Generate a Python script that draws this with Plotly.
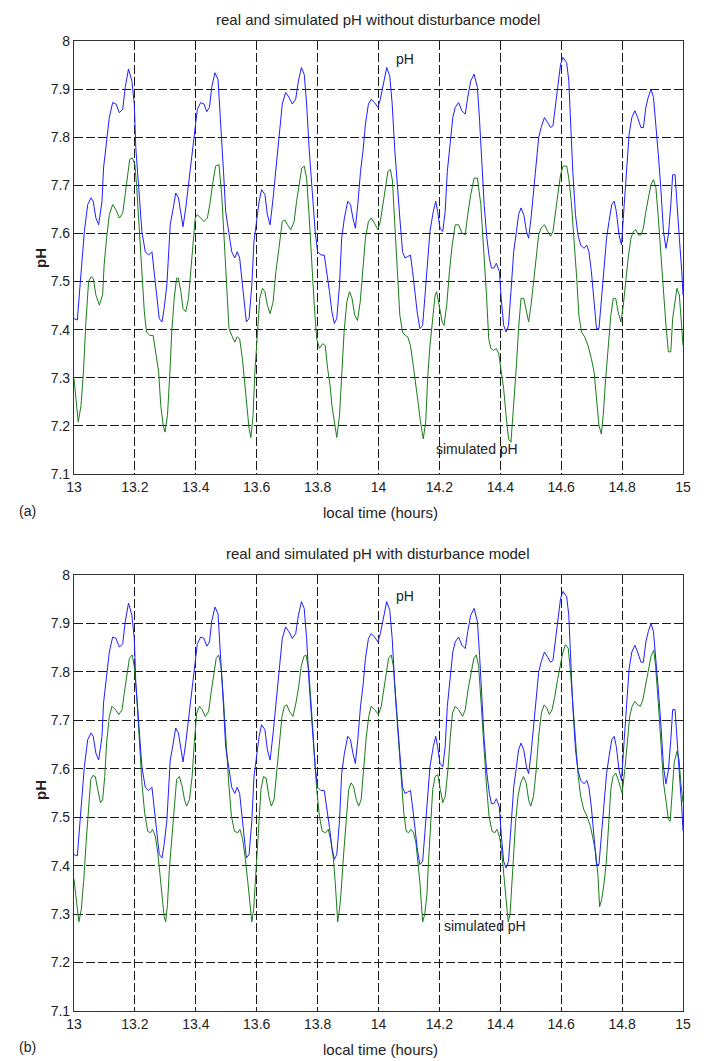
import plotly.graph_objects as go

# ---------------- data ----------------
time_ph = [13.000, 13.011, 13.020, 13.034, 13.045, 13.056, 13.063, 13.072, 13.081, 13.092, 13.097, 13.107, 13.116, 13.127, 13.138, 13.149, 13.160, 13.168, 13.179, 13.190,
           13.198, 13.203, 13.212, 13.223, 13.234, 13.245, 13.256, 13.263, 13.271, 13.280, 13.289, 13.296, 13.305, 13.316, 13.326, 13.334, 13.343, 13.351, 13.358, 13.367,
           13.378, 13.389, 13.398, 13.405, 13.416, 13.427, 13.436, 13.445, 13.452, 13.463, 13.473, 13.482, 13.491, 13.498, 13.507, 13.518, 13.528, 13.536, 13.544, 13.551,
           13.558, 13.566, 13.575, 13.584, 13.591, 13.599, 13.608, 13.616, 13.627, 13.635, 13.644, 13.654, 13.665, 13.673, 13.684, 13.695, 13.706, 13.717, 13.728, 13.737,
           13.747, 13.756, 13.764, 13.772, 13.781, 13.792, 13.800, 13.811, 13.822, 13.830, 13.839, 13.847, 13.855, 13.863, 13.872, 13.879, 13.888, 13.899, 13.908, 13.916,
           13.924, 13.932, 13.941, 13.949, 13.957, 13.967, 13.976, 13.987, 13.998, 14.006, 14.016, 14.027, 14.037, 14.045, 14.053, 14.061, 14.070, 14.079, 14.087, 14.096,
           14.105, 14.112, 14.119, 14.127, 14.136, 14.145, 14.152, 14.160, 14.169, 14.180, 14.188, 14.194, 14.202, 14.211, 14.219, 14.226, 14.235, 14.244, 14.252, 14.263,
           14.274, 14.285, 14.293, 14.303, 14.314, 14.325, 14.332, 14.340, 14.347, 14.356, 14.364, 14.371, 14.379, 14.387, 14.397, 14.403, 14.411, 14.419, 14.427, 14.435,
           14.444, 14.453, 14.460, 14.468, 14.477, 14.486, 14.493, 14.501, 14.510, 14.519, 14.526, 14.534, 14.545, 14.556, 14.565, 14.573, 14.581, 14.589, 14.598, 14.606,
           14.618, 14.625, 14.631, 14.638, 14.647, 14.655, 14.664, 14.675, 14.684, 14.691, 14.699, 14.708, 14.716, 14.724, 14.732, 14.741, 14.749, 14.757, 14.766, 14.774,
           14.781, 14.790, 14.798, 14.807, 14.815, 14.823, 14.832, 14.842, 14.851, 14.862, 14.870, 14.878, 14.886, 14.895, 14.903, 14.911, 14.919, 14.927, 14.936, 14.944,
           14.952, 14.960, 14.966, 14.974, 14.980, 14.988, 14.996, 15.000]
ph_real = [7.423, 7.420, 7.493, 7.604, 7.660, 7.674, 7.667, 7.632, 7.618, 7.667, 7.736, 7.785, 7.841, 7.872, 7.869, 7.851, 7.858, 7.903, 7.942, 7.917,
           7.869, 7.778, 7.695, 7.604, 7.562, 7.555, 7.562, 7.521, 7.479, 7.423, 7.416, 7.444, 7.493, 7.618, 7.653, 7.684, 7.674, 7.639, 7.614, 7.653,
           7.715, 7.771, 7.820, 7.858, 7.872, 7.869, 7.853, 7.862, 7.903, 7.934, 7.920, 7.834, 7.729, 7.646, 7.604, 7.562, 7.549, 7.562, 7.549, 7.507,
           7.458, 7.416, 7.423, 7.493, 7.583, 7.625, 7.667, 7.691, 7.681, 7.639, 7.618, 7.674, 7.743, 7.799, 7.869, 7.893, 7.883, 7.869, 7.879, 7.917,
           7.945, 7.931, 7.869, 7.778, 7.695, 7.604, 7.562, 7.555, 7.555, 7.521, 7.479, 7.437, 7.413, 7.423, 7.493, 7.590, 7.632, 7.667, 7.660, 7.632,
           7.611, 7.660, 7.729, 7.771, 7.827, 7.869, 7.879, 7.872, 7.862, 7.879, 7.910, 7.945, 7.927, 7.869, 7.778, 7.702, 7.632, 7.562, 7.549, 7.552,
           7.555, 7.521, 7.479, 7.437, 7.402, 7.409, 7.465, 7.535, 7.604, 7.646, 7.667, 7.646, 7.611, 7.604, 7.646, 7.729, 7.785, 7.841, 7.862, 7.872,
           7.855, 7.848, 7.883, 7.917, 7.931, 7.903, 7.834, 7.743, 7.660, 7.590, 7.549, 7.528, 7.528, 7.538, 7.521, 7.465, 7.409, 7.395, 7.409, 7.479,
           7.562, 7.604, 7.639, 7.653, 7.639, 7.604, 7.590, 7.632, 7.695, 7.743, 7.799, 7.820, 7.841, 7.830, 7.820, 7.824, 7.862, 7.903, 7.952, 7.966,
           7.955, 7.917, 7.834, 7.729, 7.639, 7.597, 7.576, 7.569, 7.576, 7.562, 7.521, 7.458, 7.402, 7.402, 7.458, 7.528, 7.590, 7.625, 7.660, 7.667,
           7.646, 7.597, 7.576, 7.660, 7.743, 7.806, 7.841, 7.855, 7.841, 7.820, 7.820, 7.862, 7.883, 7.900, 7.883, 7.813, 7.764, 7.695, 7.604, 7.569,
           7.597, 7.660, 7.722, 7.722, 7.660, 7.590, 7.521, 7.472]

time_sim_a = [13.000, 13.007, 13.014, 13.023, 13.031, 13.039, 13.048, 13.056, 13.063, 13.072, 13.083, 13.094, 13.099, 13.107, 13.116, 13.127, 13.138, 13.149, 13.160, 13.168,
              13.176, 13.183, 13.192, 13.200, 13.206, 13.214, 13.223, 13.231, 13.238, 13.249, 13.260, 13.269, 13.278, 13.285, 13.293, 13.299, 13.307, 13.315, 13.321, 13.329,
              13.337, 13.343, 13.351, 13.358, 13.367, 13.376, 13.384, 13.391, 13.398, 13.405, 13.416, 13.427, 13.438, 13.446, 13.455, 13.465, 13.476, 13.485, 13.493, 13.501,
              13.509, 13.518, 13.528, 13.536, 13.544, 13.553, 13.560, 13.567, 13.575, 13.581, 13.588, 13.594, 13.602, 13.610, 13.619, 13.627, 13.635, 13.644, 13.654, 13.663,
              13.673, 13.684, 13.693, 13.701, 13.712, 13.723, 13.731, 13.739, 13.748, 13.756, 13.764, 13.772, 13.781, 13.789, 13.797, 13.806, 13.817, 13.825, 13.833, 13.841,
              13.847, 13.855, 13.863, 13.872, 13.879, 13.887, 13.896, 13.905, 13.913, 13.922, 13.931, 13.940, 13.949, 13.957, 13.967, 13.976, 13.987, 13.998, 14.006, 14.015,
              14.024, 14.031, 14.039, 14.046, 14.053, 14.061, 14.070, 14.079, 14.088, 14.096, 14.105, 14.114, 14.122, 14.130, 14.138, 14.147, 14.155, 14.162, 14.169, 14.178,
              14.186, 14.191, 14.200, 14.209, 14.215, 14.224, 14.233, 14.242, 14.252, 14.263, 14.274, 14.285, 14.293, 14.303, 14.314, 14.325, 14.336, 14.345, 14.354, 14.362,
              14.369, 14.378, 14.387, 14.395, 14.402, 14.411, 14.419, 14.427, 14.435, 14.444, 14.453, 14.460, 14.468, 14.477, 14.486, 14.493, 14.501, 14.510, 14.519, 14.526,
              14.534, 14.545, 14.556, 14.565, 14.573, 14.581, 14.589, 14.598, 14.606, 14.618, 14.625, 14.633, 14.642, 14.651, 14.658, 14.667, 14.677, 14.688, 14.699, 14.708,
              14.716, 14.724, 14.732, 14.738, 14.746, 14.754, 14.763, 14.771, 14.779, 14.787, 14.796, 14.804, 14.812, 14.820, 14.829, 14.837, 14.845, 14.853, 14.862, 14.870,
              14.878, 14.887, 14.895, 14.903, 14.911, 14.919, 14.927, 14.936, 14.944, 14.952, 14.960, 14.966, 14.974, 14.980, 14.988, 14.996, 15.000]
ph_sim_a = [7.298, 7.256, 7.208, 7.242, 7.312, 7.416, 7.500, 7.510, 7.507, 7.472, 7.451, 7.472, 7.535, 7.590, 7.639, 7.660, 7.649, 7.632, 7.642, 7.681,
            7.715, 7.754, 7.757, 7.743, 7.695, 7.618, 7.521, 7.437, 7.395, 7.388, 7.388, 7.354, 7.312, 7.242, 7.201, 7.187, 7.222, 7.312, 7.395, 7.465,
            7.507, 7.507, 7.479, 7.444, 7.437, 7.465, 7.521, 7.576, 7.632, 7.639, 7.632, 7.625, 7.632, 7.660, 7.702, 7.740, 7.743, 7.681, 7.590, 7.486,
            7.402, 7.388, 7.374, 7.385, 7.381, 7.340, 7.298, 7.242, 7.194, 7.176, 7.222, 7.312, 7.402, 7.465, 7.486, 7.479, 7.451, 7.433, 7.458, 7.521,
            7.569, 7.625, 7.628, 7.618, 7.608, 7.625, 7.667, 7.702, 7.736, 7.740, 7.715, 7.639, 7.535, 7.451, 7.381, 7.361, 7.371, 7.367, 7.319, 7.284,
            7.242, 7.208, 7.176, 7.222, 7.312, 7.395, 7.458, 7.479, 7.465, 7.430, 7.419, 7.458, 7.528, 7.590, 7.625, 7.632, 7.621, 7.608, 7.625, 7.660,
            7.695, 7.729, 7.733, 7.709, 7.625, 7.521, 7.430, 7.395, 7.388, 7.385, 7.367, 7.326, 7.291, 7.249, 7.208, 7.173, 7.208, 7.305, 7.367, 7.416,
            7.472, 7.479, 7.444, 7.416, 7.409, 7.451, 7.521, 7.576, 7.618, 7.618, 7.601, 7.597, 7.639, 7.681, 7.715, 7.715, 7.660, 7.576, 7.479, 7.381,
            7.361, 7.357, 7.361, 7.350, 7.319, 7.277, 7.222, 7.173, 7.166, 7.242, 7.326, 7.402, 7.465, 7.465, 7.437, 7.416, 7.451, 7.507, 7.555, 7.597,
            7.611, 7.618, 7.604, 7.594, 7.604, 7.646, 7.681, 7.722, 7.740, 7.740, 7.715, 7.667, 7.590, 7.507, 7.430, 7.395, 7.385, 7.367, 7.340, 7.312,
            7.256, 7.201, 7.183, 7.222, 7.298, 7.367, 7.430, 7.465, 7.465, 7.437, 7.416, 7.451, 7.507, 7.549, 7.590, 7.604, 7.608, 7.597, 7.597, 7.611,
            7.646, 7.674, 7.702, 7.712, 7.695, 7.632, 7.555, 7.479, 7.409, 7.354, 7.354, 7.423, 7.465, 7.486, 7.472, 7.395, 7.367]

time_sim_b = [13.000, 13.008, 13.016, 13.024, 13.032, 13.040, 13.048, 13.055, 13.062, 13.070, 13.078, 13.087, 13.094, 13.101, 13.107, 13.116, 13.125, 13.136, 13.147, 13.158,
              13.165, 13.173, 13.182, 13.191, 13.198, 13.206, 13.215, 13.223, 13.232, 13.242, 13.251, 13.258, 13.267, 13.275, 13.283, 13.290, 13.296, 13.301, 13.307, 13.313,
              13.322, 13.330, 13.337, 13.346, 13.355, 13.363, 13.370, 13.379, 13.388, 13.395, 13.403, 13.412, 13.421, 13.431, 13.442, 13.450, 13.458, 13.467, 13.475, 13.483,
              13.491, 13.499, 13.508, 13.517, 13.527, 13.538, 13.545, 13.554, 13.563, 13.571, 13.577, 13.584, 13.590, 13.595, 13.600, 13.607, 13.614, 13.622, 13.631, 13.640,
              13.648, 13.657, 13.666, 13.675, 13.683, 13.691, 13.699, 13.708, 13.719, 13.729, 13.738, 13.746, 13.755, 13.762, 13.771, 13.780, 13.789, 13.797, 13.806, 13.815,
              13.826, 13.835, 13.843, 13.852, 13.858, 13.862, 13.866, 13.872, 13.877, 13.885, 13.894, 13.902, 13.910, 13.918, 13.927, 13.935, 13.943, 13.951, 13.960, 13.968,
              13.976, 13.987, 14.000, 14.009, 14.016, 14.024, 14.033, 14.042, 14.049, 14.057, 14.066, 14.075, 14.083, 14.091, 14.099, 14.107, 14.115, 14.123, 14.129, 14.136,
              14.141, 14.145, 14.152, 14.159, 14.164, 14.171, 14.178, 14.186, 14.195, 14.203, 14.211, 14.219, 14.228, 14.236, 14.243, 14.252, 14.263, 14.276, 14.285, 14.294,
              14.303, 14.313, 14.321, 14.329, 14.337, 14.345, 14.354, 14.363, 14.373, 14.382, 14.389, 14.397, 14.404, 14.411, 14.419, 14.426, 14.432, 14.436, 14.443, 14.450,
              14.458, 14.467, 14.476, 14.485, 14.493, 14.500, 14.509, 14.518, 14.526, 14.535, 14.544, 14.553, 14.561, 14.570, 14.579, 14.588, 14.596, 14.605, 14.614, 14.623,
              14.630, 14.638, 14.647, 14.656, 14.664, 14.674, 14.685, 14.696, 14.705, 14.713, 14.721, 14.726, 14.733, 14.740, 14.748, 14.757, 14.763, 14.770, 14.779, 14.787,
              14.795, 14.800, 14.809, 14.817, 14.825, 14.833, 14.842, 14.851, 14.860, 14.868, 14.877, 14.886, 14.895, 14.904, 14.910, 14.919, 14.928, 14.936, 14.945, 14.952,
              14.958, 14.965, 14.971, 14.980, 14.987, 14.993, 15.000]
ph_sim_b = [7.372, 7.320, 7.284, 7.310, 7.370, 7.450, 7.530, 7.578, 7.586, 7.584, 7.557, 7.530, 7.536, 7.584, 7.653, 7.708, 7.729, 7.722, 7.712, 7.722,
            7.756, 7.791, 7.828, 7.835, 7.811, 7.749, 7.653, 7.571, 7.509, 7.471, 7.468, 7.475, 7.461, 7.427, 7.378, 7.330, 7.295, 7.284, 7.320, 7.392,
            7.468, 7.530, 7.578, 7.584, 7.564, 7.536, 7.523, 7.536, 7.584, 7.653, 7.715, 7.729, 7.722, 7.708, 7.718, 7.756, 7.791, 7.828, 7.835, 7.811,
            7.742, 7.653, 7.571, 7.502, 7.471, 7.468, 7.475, 7.454, 7.413, 7.365, 7.325, 7.284, 7.310, 7.360, 7.427, 7.502, 7.557, 7.584, 7.581, 7.543,
            7.523, 7.536, 7.591, 7.653, 7.708, 7.729, 7.732, 7.718, 7.708, 7.736, 7.770, 7.811, 7.832, 7.835, 7.804, 7.722, 7.626, 7.557, 7.502, 7.471,
            7.468, 7.475, 7.454, 7.413, 7.365, 7.320, 7.284, 7.310, 7.345, 7.420, 7.502, 7.557, 7.571, 7.564, 7.536, 7.523, 7.536, 7.598, 7.667, 7.708,
            7.729, 7.722, 7.712, 7.729, 7.756, 7.791, 7.828, 7.835, 7.811, 7.735, 7.653, 7.578, 7.509, 7.471, 7.468, 7.475, 7.468, 7.447, 7.413, 7.365,
            7.320, 7.284, 7.300, 7.340, 7.406, 7.488, 7.557, 7.584, 7.588, 7.557, 7.530, 7.543, 7.598, 7.667, 7.715, 7.729, 7.722, 7.708, 7.722, 7.763,
            7.797, 7.828, 7.835, 7.811, 7.735, 7.653, 7.571, 7.502, 7.471, 7.468, 7.475, 7.461, 7.434, 7.385, 7.330, 7.284, 7.300, 7.335, 7.413, 7.488,
            7.543, 7.571, 7.584, 7.571, 7.536, 7.523, 7.543, 7.598, 7.667, 7.715, 7.732, 7.725, 7.712, 7.722, 7.749, 7.784, 7.811, 7.839, 7.856, 7.849,
            7.804, 7.735, 7.653, 7.584, 7.543, 7.516, 7.502, 7.481, 7.454, 7.427, 7.378, 7.315, 7.330, 7.360, 7.406, 7.488, 7.557, 7.584, 7.591, 7.578,
            7.557, 7.550, 7.598, 7.653, 7.708, 7.729, 7.739, 7.732, 7.729, 7.742, 7.770, 7.804, 7.832, 7.845, 7.811, 7.735, 7.653, 7.571, 7.530, 7.495,
            7.492, 7.571, 7.612, 7.636, 7.619, 7.571, 7.530]

x_ticks = [13.0, 13.2, 13.4, 13.6, 13.8, 14.0, 14.2, 14.4, 14.6, 14.8, 15.0]
x_tick_labels = ["13", "13.2", "13.4", "13.6", "13.8", "14", "14.2", "14.4", "14.6", "14.8", "15"]
y_ticks = [7.1, 7.2, 7.3, 7.4, 7.5, 7.6, 7.7, 7.8, 7.9, 8.0]
y_tick_labels = ["7.1", "7.2", "7.3", "7.4", "7.5", "7.6", "7.7", "7.8", "7.9", "8"]

titles = ["real and simulated pH without disturbance model",
          "real and simulated pH with disturbance model"]
panel_labels = ["(a)", "(b)"]
x_title = "local time (hours)"
y_title = "pH"

# ---------------- figure ----------------
FONT = "Liberation Sans, Arial, sans-serif"
W, H = 706, 1061
# target plot-area edges in page pixels
PX_L, PX_R = 74, 683
PY_TOP_A, PY_BOT_A = 41, 474
PY_TOP_B, PY_BOT_B = 575, 1011

L = PX_L
R = W - PX_R
T = PY_TOP_A
B = H - PY_BOT_B
PH = H - T - B
PW = W - L - R

def py2paper(py):
    return (H - B - py) / PH

def px2paper(px):
    return (px - L) / PW

fig = go.Figure()
blue = "rgb(30,30,255)"
green = "rgb(25,125,25)"
LW = 1.0

fig.add_trace(go.Scatter(x=time_ph, y=ph_real, mode="lines", line=dict(color=blue, width=LW),
                         xaxis="x", yaxis="y", showlegend=False))
fig.add_trace(go.Scatter(x=time_sim_a, y=ph_sim_a, mode="lines", line=dict(color=green, width=LW),
                         xaxis="x", yaxis="y", showlegend=False))
fig.add_trace(go.Scatter(x=time_sim_b, y=ph_sim_b, mode="lines", line=dict(color=green, width=LW),
                         xaxis="x2", yaxis="y2", showlegend=False))
fig.add_trace(go.Scatter(x=time_ph, y=ph_real, mode="lines", line=dict(color=blue, width=LW),
                         xaxis="x2", yaxis="y2", showlegend=False))

axis_common = dict(showline=True, linecolor="#333", linewidth=1.2, mirror=True,
                   showgrid=True, gridcolor="#1a1a1a", gridwidth=1, griddash="9px,3px",
                   zeroline=False, ticks="", tickfont=dict(family=FONT, size=14, color="#222"))

top_dom = [py2paper(PY_BOT_A), py2paper(PY_TOP_A)]
bot_dom = [py2paper(PY_BOT_B), py2paper(PY_TOP_B)]

fig.update_layout(
    width=W, height=H,
    margin=dict(l=L, r=R, t=T, b=B),
    paper_bgcolor="white", plot_bgcolor="white",
    font=dict(family=FONT, size=14, color="#222"),
    xaxis=dict(domain=[0, 1], range=[13, 15], tickvals=x_ticks, ticktext=x_tick_labels,
               anchor="y", **axis_common),
    yaxis=dict(domain=top_dom, range=[7.1, 8], tickvals=y_ticks, ticktext=y_tick_labels,
               anchor="x", **axis_common),
    xaxis2=dict(domain=[0, 1], range=[13, 15], tickvals=x_ticks, ticktext=x_tick_labels,
                anchor="y2", **axis_common),
    yaxis2=dict(domain=bot_dom, range=[7.1, 8], tickvals=y_ticks, ticktext=y_tick_labels,
                anchor="x2", **axis_common),
)

ann = []
for i, (ttl_py, xl_py, yl_py, lab_py) in enumerate([(19, 512, 258, 511), (553, 1049, 790, 1047)]):
    ann.append(dict(text=titles[i], x=px2paper(378), y=py2paper(ttl_py), xref="paper", yref="paper",
                    showarrow=False, xanchor="center", yanchor="middle",
                    font=dict(family=FONT, size=15, color="#222")))
    ann.append(dict(text=x_title, x=px2paper(380), y=py2paper(xl_py), xref="paper", yref="paper",
                    showarrow=False, xanchor="center", yanchor="middle",
                    font=dict(family=FONT, size=15, color="#222")))
    ann.append(dict(text="<b>" + y_title + "</b>", x=px2paper(40), y=py2paper(yl_py), xref="paper", yref="paper",
                    showarrow=False, xanchor="center", yanchor="middle", textangle=-90,
                    font=dict(family=FONT, size=15, color="#222")))
    ann.append(dict(text=panel_labels[i], x=px2paper(27), y=py2paper(lab_py), xref="paper", yref="paper",
                    showarrow=False, xanchor="center", yanchor="middle",
                    font=dict(family=FONT, size=14, color="#222")))

# curve labels
ann.append(dict(text="pH", x=14.05, y=7.962, xref="x", yref="y", showarrow=False,
                xanchor="left", yanchor="middle", font=dict(family=FONT, size=14, color="#222")))
ann.append(dict(text="simulated pH", x=14.323, y=7.152, xref="x", yref="y", showarrow=False,
                xanchor="center", yanchor="middle", font=dict(family=FONT, size=14, color="#222")))
ann.append(dict(text="pH", x=14.05, y=7.957, xref="x2", yref="y2", showarrow=False,
                xanchor="left", yanchor="middle", font=dict(family=FONT, size=14, color="#222")))
ann.append(dict(text="simulated pH", x=14.35, y=7.275, xref="x2", yref="y2", showarrow=False,
                xanchor="center", yanchor="middle", font=dict(family=FONT, size=14, color="#222")))

fig.update_layout(annotations=ann)
fig.write_html("out.html",
               config={"displayModeBar": False},
               post_script="document.body.style.margin='0';document.body.style.overflow='hidden';")
